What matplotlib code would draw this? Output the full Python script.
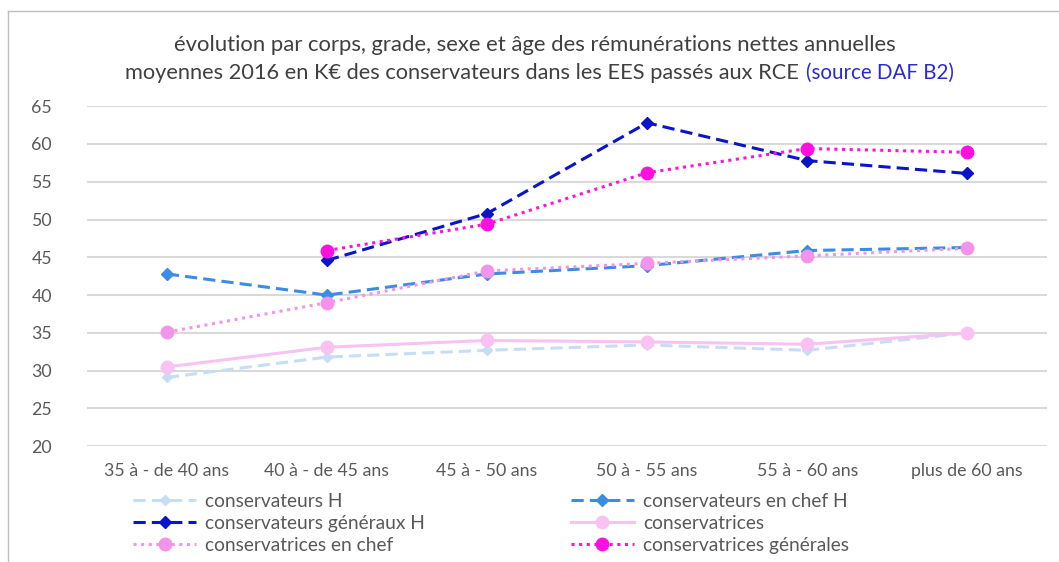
import numpy as np
import matplotlib
matplotlib.use("Agg")
import matplotlib.pyplot as plt
from matplotlib.lines import Line2D

plt.rcParams['font.family'] = ['Lato', 'DejaVu Sans']

categories = ["35 à - de 40 ans", "40 à - de 45 ans", "45 à - 50 ans",
              "50 à - 55 ans", "55 à - 60 ans", "plus de 60 ans"]
cons_h = [29.1, 31.8, 32.7, 33.4, 32.7, 35.0]
cons_chef_h = [42.8, 40.0, 42.8, 43.9, 45.9, 46.3]
cons_gen_h = [np.nan, 44.6, 50.8, 62.8, 57.8, 56.1]
consf = [30.5, 33.1, 34.0, 33.8, 33.5, 35.0]
consf_chef = [35.1, 39.0, 43.2, 44.2, 45.2, 46.2]
consf_gen = [np.nan, 45.9, 49.4, 56.2, 59.4, 58.9]
yticks = [20, 25, 30, 35, 40, 45, 50, 55, 60, 65]

fig = plt.figure(figsize=(10.59, 5.62), dpi=100)
ax = fig.add_axes([0.082, 0.206, 0.907, 0.605])
x = np.arange(len(categories))

series = [
    ("conservateurs H", cons_h, "#C6DEF5", (0, (4, 2)), "D", 5),
    ("conservateurs en chef H", cons_chef_h, "#3B8CE6", (0, (4, 2)), "D", 6),
    ("conservateurs généraux H", cons_gen_h, "#0A14C8", (0, (4, 2)), "D", 6),
    ("conservatrices", consf, "#F8C2F2", "-", "o", 9),
    ("conservatrices en chef", consf_chef, "#F294EA", (0, (1, 1.5)), "o", 9),
    ("conservatrices générales", consf_gen, "#FF10E0", (0, (1, 1.5)), "o", 9),
]
handles = {}
for name, vals, col, ls, mk, ms in series:
    h, = ax.plot(x, vals, color=col, linestyle=ls, linewidth=2.2, marker=mk,
                 markersize=ms, markerfacecolor=col, markeredgecolor=col, label=name)
    handles[name] = h

ax.set_xlim(-0.5, len(categories) - 0.5)
ax.set_ylim(20, 65)
ax.set_yticks(yticks)
ax.set_xticks(x)
ax.set_xticklabels(categories)
ax.grid(axis='y', color='#D9D9D9', linewidth=1.5)
ax.set_axisbelow(True)
for s in ax.spines.values():
    s.set_visible(False)
ax.tick_params(length=0, labelsize=12.8, labelcolor='#595959')
ax.tick_params(axis='y', pad=25)
ax.tick_params(axis='x', pad=12)

order = ["conservateurs H", "conservateurs généraux H", "conservatrices en chef",
         "conservateurs en chef H", "conservatrices", "conservatrices générales"]
leg = fig.legend([handles[n] for n in order], order, ncol=2, loc='upper left',
                 bbox_to_anchor=(0.1256, 1 - 493 / 562), frameon=False, fontsize=13.8,
                 handlelength=3.3, columnspacing=7.6, labelspacing=0.26,
                 handletextpad=0.47, borderpad=0, borderaxespad=0)
for t in leg.get_texts():
    t.set_color('#595959')

t1 = fig.text(0.5055, 1 - 45 / 562, "évolution par corps, grade, sexe et âge des rémunérations nettes annuelles",
              ha='center', va='center', fontsize=15.9, color='#404040')
t2 = fig.text(125 / 1059, 1 - 73 / 562, "moyennes 2016 en K€ des conservateurs dans les EES passés aux RCE",
              ha='left', va='center', fontsize=15.7, color='#404040')
fig.canvas.draw()
bb = t2.get_window_extent()
fig.text((bb.x1 + 7) / 1059, 1 - 73 / 562, "(source DAF B2)", ha='left', va='center',
         fontsize=14.8, color='#2B2BD0')

fig.add_artist(Line2D([0.0075, 0.0075], [0.0, 0.98], transform=fig.transFigure,
                      color='#BFBFBF', linewidth=1))
fig.add_artist(Line2D([0.0075, 1.0], [0.98, 0.98], transform=fig.transFigure,
                      color='#BFBFBF', linewidth=1))

fig.savefig("out.png", dpi=100)
